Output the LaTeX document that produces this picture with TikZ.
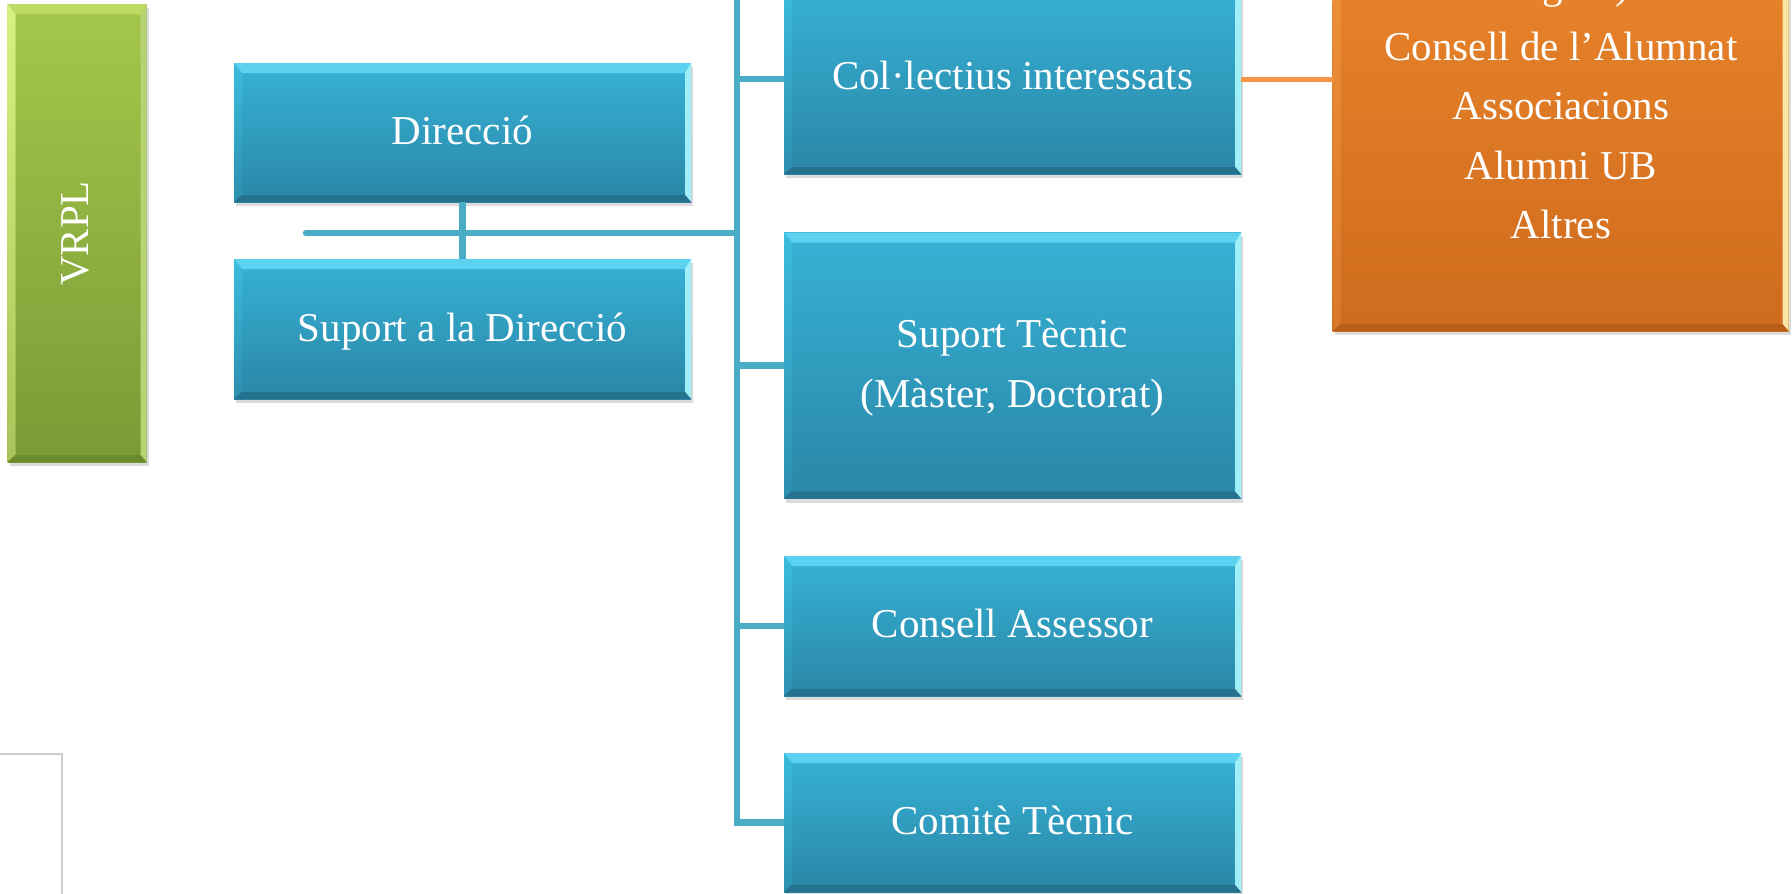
\documentclass[tikz,border=0pt]{standalone}
\usepackage{fontspec}
\setmainfont{Liberation Serif}
\usetikzlibrary{shadows}
\definecolor{blueTop}{HTML}{36B2D6}
\definecolor{blueBot}{HTML}{2A86A6}
\definecolor{blueBevT}{HTML}{5CD2F0}
\definecolor{blueBevLt}{HTML}{3CBCDD}
\definecolor{blueBevLb}{HTML}{2C8FAF}
\definecolor{blueBevR}{HTML}{A0EEF8}
\definecolor{blueBevB}{HTML}{25718E}
\definecolor{greenTop}{HTML}{A4C84B}
\definecolor{greenBot}{HTML}{7A9A36}
\definecolor{greenBevT}{HTML}{BCDC66}
\definecolor{greenBevLt}{HTML}{D6F27E}
\definecolor{greenBevLb}{HTML}{A8C45A}
\definecolor{greenBevR}{HTML}{B9D273}
\definecolor{greenBevB}{HTML}{6B8A2E}
\definecolor{orangeTop}{HTML}{F38C2F}
\definecolor{orangeBot}{HTML}{CE6B1D}
\definecolor{orangeBevT}{HTML}{F69A45}
\definecolor{orangeBevLt}{HTML}{F7993F}
\definecolor{orangeBevLb}{HTML}{D8782A}
\definecolor{orangeBevR}{HTML}{F7E6A6}
\definecolor{orangeBevB}{HTML}{B85E18}
\definecolor{lineBlue}{HTML}{4BACC6}
\definecolor{lineOrange}{HTML}{F79646}
\definecolor{frameGray}{HTML}{CDCDCD}
\newcommand\bevels[2]{%
  \fill[#2BevT] (#1.north west) -- (#1.north east) -- ([xshift=-6pt,yshift=-10pt]#1.north east) -- ([xshift=8pt,yshift=-10pt]#1.north west) -- cycle;
  \shade[top color=#2BevLt, bottom color=#2BevLb] (#1.north west) -- ([xshift=8pt,yshift=-10pt]#1.north west) -- ([xshift=8pt,yshift=7pt]#1.south west) -- (#1.south west) -- cycle;
  \fill[#2BevR] (#1.north east) -- ([xshift=-6pt,yshift=-10pt]#1.north east) -- ([xshift=-6pt,yshift=7pt]#1.south east) -- (#1.south east) -- cycle;
  \fill[#2BevB] (#1.south west) -- ([xshift=8pt,yshift=7pt]#1.south west) -- ([xshift=-6pt,yshift=7pt]#1.south east) -- (#1.south east) -- cycle;
}
\tikzset{
  boxbase/.style={rectangle, inner sep=0pt, outer sep=0pt,
    drop shadow={opacity=0.28, shadow xshift=2pt, shadow yshift=-4pt}},
  bluebox/.style={boxbase, top color=blueTop, bottom color=blueBot},
  greenbox/.style={boxbase, top color=greenTop, bottom color=greenBot},
  orangebox/.style={boxbase, top color=orangeTop, bottom color=orangeBot},
  txt/.style={text=white, inner sep=0pt, anchor=base, font=\fontsize{41}{49}\selectfont},
  conn/.style={draw=lineBlue, line width=6.5pt},
  oconn/.style={draw=lineOrange, line width=5pt}
}
\begin{document}
\begin{tikzpicture}[x=1pt,y=-1pt]
\clip (0,0) rectangle (1792,894);
\fill[white] (0,0) rectangle (1792,894);

% boxes
\node[greenbox, minimum width=139pt, minimum height=458pt] (vrpl) at (77,233) {};
\node[bluebox, minimum width=457pt, minimum height=139pt] (dir) at (462.5,132.5) {};
\node[bluebox, minimum width=457pt, minimum height=140pt] (sup) at (462.5,329) {};
\node[bluebox, minimum width=457pt, minimum height=190pt] (col) at (1012.5,79) {};
\node[bluebox, minimum width=457pt, minimum height=266pt] (stec) at (1012.5,365.5) {};
\node[bluebox, minimum width=457pt, minimum height=140pt] (cass) at (1012.5,626) {};
\node[bluebox, minimum width=457pt, minimum height=139pt] (ctec) at (1012.5,822.5) {};
\node[orangebox, minimum width=456pt, minimum height=504pt] (org) at (1560.5,79) {};

\bevels{vrpl}{green}
\bevels{dir}{blue}
\bevels{sup}{blue}
\bevels{col}{blue}
\bevels{stec}{blue}
\bevels{cass}{blue}
\bevels{ctec}{blue}
\bevels{org}{orange}

% connectors
\coordinate (ttop) at (737,-10);
\coordinate (hl) at (306,233);
\coordinate (jr) at (737,233);
\draw[conn] (ttop) |- (ctec.west);
\draw[conn] (ttop) |- (col.west);
\draw[conn] (ttop) |- (stec.west);
\draw[conn] (ttop) |- (cass.west);
\draw[conn, line cap=round] (hl) -- (jr);
\draw[conn] (dir.south) -- (sup.north);
\draw[oconn] (col.east) -- (org.west);

% texts
\node[txt, rotate=90] (vrplT) at (88.5,233.5) {VRPL};
\node[txt] (dirT) at (462.5,144) {Direcció};
\node[txt] (supT) at (462.5,341) {Suport a la Direcció};
\node[txt] (colT) at (1012.5,89) {Col·lectius interessats};
\node[txt] (stecT1) at (1012.5,347) {Suport Tècnic};
\node[txt] (stecT2) at (1012.5,407) {(Màster, Doctorat)};
\node[txt] (cassT) at (1012.5,637) {Consell Assessor};
\node[txt] (ctecT) at (1012.5,834) {Comitè Tècnic};
\node[txt] (orgT0) at (1561,-1.5) {de grau)};
\node[txt] (orgT1) at (1561,60) {Consell de l’Alumnat};
\node[txt] (orgT2) at (1561,119.5) {Associacions};
\node[txt] (orgT3) at (1561,179) {Alumni UB};
\node[txt] (orgT4) at (1561,238.5) {Altres};

% thin frame bottom left
\draw[frameGray, line width=1.5pt] (0,754) -- (62,754) -- (62,900);
\end{tikzpicture}
\end{document}
